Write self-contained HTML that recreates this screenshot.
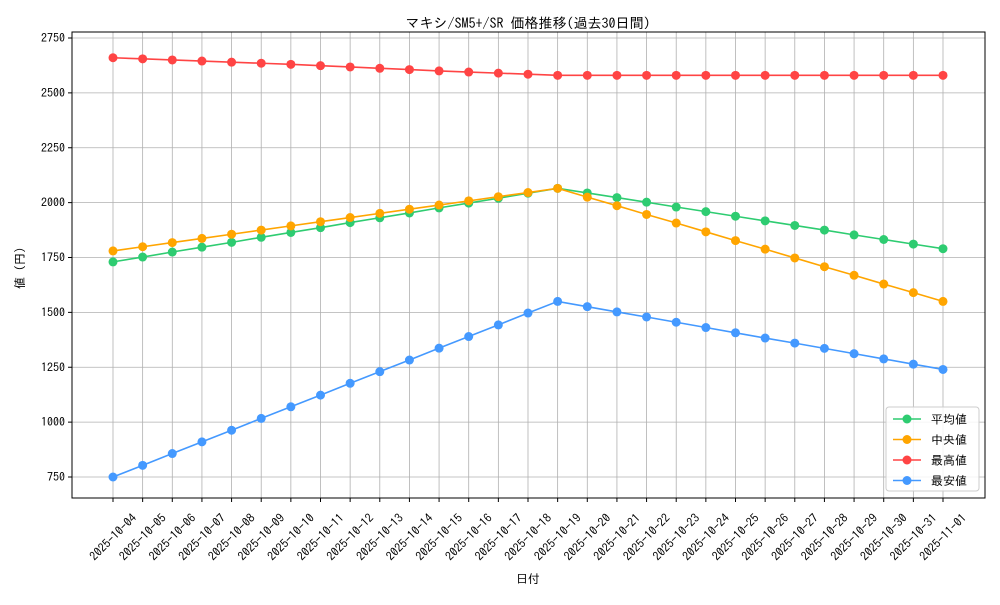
<!DOCTYPE html>
<html><head><meta charset="utf-8"><style>
body{margin:0;background:#fff}
svg{font-family:"IPAGothic","Noto Sans CJK JP",monospace}
</style></head><body>
<svg id="c" width="1000" height="600"></svg>
<script>
const dates=["2025-10-04","2025-10-05","2025-10-06","2025-10-07","2025-10-08","2025-10-09","2025-10-10","2025-10-11","2025-10-12","2025-10-13","2025-10-14","2025-10-15","2025-10-16","2025-10-17","2025-10-18","2025-10-19","2025-10-20","2025-10-21","2025-10-22","2025-10-23","2025-10-24","2025-10-25","2025-10-26","2025-10-27","2025-10-28","2025-10-29","2025-10-30","2025-10-31","2025-11-01"];
const meanVals=[1730,1752,1775,1797,1819,1842,1864,1886,1909,1931,1953,1976,1998,2020,2043,2065,2044,2023,2002,1980,1959,1938,1917,1896,1875,1853,1832,1811,1790];
const medianVals=[1780,1799,1818,1837,1856,1875,1894,1913,1932,1951,1970,1989,2008,2027,2046,2065,2025,1986,1946,1907,1867,1827,1788,1748,1708,1669,1629,1590,1550];
const maxVals=[2660,2655,2650,2645,2640,2635,2630,2624,2618,2612,2606,2600,2595,2590,2585,2580,2580,2580,2580,2580,2580,2580,2580,2580,2580,2580,2580,2580,2580];
const minVals=[750,803,857,910,963,1017,1070,1123,1177,1230,1283,1337,1390,1443,1497,1550,1526,1502,1479,1455,1431,1407,1383,1360,1336,1312,1288,1264,1240];
const yTicks=[750,1000,1250,1500,1750,2000,2250,2500,2750];
const seriesNames=["平均値","中央値","最高値","最安値"];
const colors=["#2ecc71","#ffa500","#ff4444","#4499ff"];
const NS="http://www.w3.org/2000/svg";
const svg=document.getElementById('c');
const L=72,R=985,T=32,B=498;
const xs=i=>113+i*(943-113)/(dates.length-1);
const ys=v=>477-(v-750)*(477-38)/2000;
function mk(t,a,p){const e=document.createElementNS(NS,t);for(const k in a)e.setAttribute(k,a[k]);(p||svg).appendChild(e);return e;}
dates.forEach((d,i)=>{const g=mk('line',{x1:xs(i),x2:xs(i),y1:T,y2:B,stroke:'#b0b0b0','stroke-width':0.8});

const tk=mk('line',{x1:xs(i),x2:xs(i),y1:B,y2:B+4,stroke:'#000'});

const cx=xs(i)+3,cy=B+42;
const t=mk('text',{x:cx,y:cy,'font-size':12,'text-anchor':'middle',transform:`rotate(-45 ${cx} ${cy})`});t.textContent=d;
});
yTicks.forEach(v=>{const g=mk('line',{x1:L,x2:R,y1:ys(v),y2:ys(v),stroke:'#b0b0b0','stroke-width':0.8});

const tk=mk('line',{x1:L-4,x2:L,y1:ys(v),y2:ys(v),stroke:'#000'});

const t=mk('text',{x:L-7,y:ys(v)+4,'font-size':12,'text-anchor':'end'});t.textContent=v;
});
const fr=mk('rect',{x:L,y:T,width:R-L,height:B-T,fill:'none',stroke:'#000','stroke-width':1});

[meanVals,medianVals,maxVals,minVals].forEach((vals,s)=>{
const g=mk('g',{});
const p=mk('polyline',{points:vals.map((v,i)=>xs(i)+','+ys(v)).join(' '),fill:'none',stroke:colors[s],'stroke-width':1.6},g);

vals.forEach((v,i)=>{const c=mk('circle',{cx:xs(i),cy:ys(v),r:4.5,fill:colors[s]},g);
});});
const title=mk('text',{x:528,y:28,'font-size':14,'text-anchor':'middle'});title.textContent="マキシ/SM5+/SR 価格推移(過去30日間)";

const xl=mk('text',{x:528,y:583,'font-size':12,'text-anchor':'middle'});xl.textContent="日付";

const yl=mk('text',{x:24,y:268,'font-size':12,'text-anchor':'middle',transform:'rotate(-90 24 268)'});yl.textContent="値 (円)";

const lg=mk('g',{});
mk('rect',{x:886,y:407,width:93,height:84,rx:3,fill:'#fff','fill-opacity':0.85,stroke:'#ccc'},lg);
seriesNames.forEach((n,i)=>{const y=419+i*20.5;
const e=mk('g',{},lg);
mk('line',{x1:893,x2:921,y1:y,y2:y,stroke:colors[i],'stroke-width':1.6},e);
mk('circle',{cx:907,cy:y,r:4.5,fill:colors[i]},e);
const t=mk('text',{x:931,y:y+4.5,'font-size':12},e);t.textContent=n;});
</script>
</body></html>
